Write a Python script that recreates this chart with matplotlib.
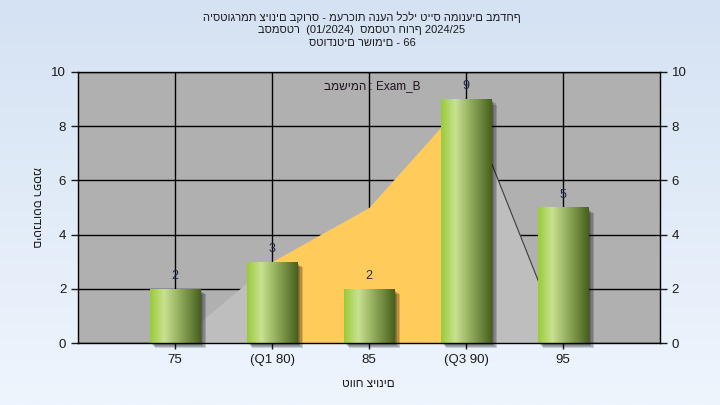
import numpy as np
import matplotlib
matplotlib.use("Agg")
import matplotlib.pyplot as plt
import matplotlib.patheffects as pe
from matplotlib.colors import LinearSegmentedColormap

plt.rcParams['font.family'] = ['Liberation Sans', 'DejaVu Sans']

# ---- data ----
categories = ["75", "(Q1 80)", "85", "(Q3 90)", "95"]
counts = [2, 3, 2, 9, 5]
curve_values = [0, 3, 5, 9, 0]
q1_index = 1
q3_index = 3
yticks = [0, 2, 4, 6, 8, 10]
title_lines = [
    "היסטוגרמת ציונים בקורס - מערכות הנעה לכלי טייס המונעים במדחף",
    "בסמסטר  (01/2024)  סמסטר חורף 2024/25",
    "סטודנטים רשומים - 66",
]
note_text = "במשימה : Exam_B"
xlabel = "טווח ציונים"
ylabel = "מספר סטודנטים"

fig = plt.figure(figsize=(7.2, 4.05), dpi=100)

# background gradient
bg = fig.add_axes([0, 0, 1, 1], zorder=-1)
grad = np.linspace(0, 1, 256).reshape(-1, 1)
bg_cmap = LinearSegmentedColormap.from_list("bg", ["#d5e2f3", "#eef5fd"])
bg.imshow(grad, aspect='auto', cmap=bg_cmap, extent=[0, 1, 0, 1], origin='upper')
bg.axis('off')

ax = fig.add_axes([78/720, 1-343/405, 582/720, 271/405])
ax.set_facecolor('#b0b0b0')
x = np.arange(len(categories))
ax.set_xlim(-1, len(categories))
ax.set_ylim(0, 10)

# grid
for yt in yticks:
    ax.axhline(yt, color='black', lw=1.0, zorder=0.5)
for xi in x:
    ax.axvline(xi, color='black', lw=1.0, zorder=0.5)

# area
cv = np.array(curve_values, dtype=float)
ax.fill_between(x, cv, 0, color='#bebebe', lw=0, zorder=1)
ax.fill_between(x[q1_index:q3_index+1], cv[q1_index:q3_index+1], 0,
                color='#ffcb5a', lw=0, zorder=1.1)
ax.plot(x[q3_index:q3_index+2], cv[q3_index:q3_index+2], color='#3c3c3c', lw=0.8, zorder=1.2)

# bars
bar_cmap = LinearSegmentedColormap.from_list(
    "bar", [(0.0, "#9acb38"), (0.28, "#c9e190"), (0.65, "#86a052"), (1.0, "#46601c")])
shadow = [pe.SimplePatchShadow(offset=(o, -o), shadow_rgbFace='black', alpha=0.16)
          for o in (1.5, 2.3, 3.1, 3.9)]
bars = ax.bar(x, counts, width=0.52, color='#8aae40', zorder=2,
              path_effects=shadow + [pe.Normal()], clip_on=False)
hgrad = np.linspace(0, 1, 256).reshape(1, -1)
for b in bars:
    x0, y0 = b.get_x(), b.get_y()
    w, h = b.get_width(), b.get_height()
    im = ax.imshow(hgrad, aspect='auto', cmap=bar_cmap,
                   extent=[x0, x0 + w, y0, y0 + h], zorder=2.1, origin='lower')
    im.set_clip_path(b)
for xi, c in zip(x, counts):
    ax.text(xi, c + 0.47, str(c), ha='center', va='center', fontsize=9,
            color='#1c2a48', zorder=3)
ax.set_xlim(-1, len(categories))
ax.set_ylim(0, 10)

ax.text(0.505, 0.948, note_text, transform=ax.transAxes, ha='center', va='center',
        fontsize=8.5, color='#201020', zorder=3)

ax.set_xticks(x)
ax.set_xticklabels(categories)
ax.set_yticks(yticks)
ax.tick_params(axis='y', left=True, right=True, labelleft=True, labelright=True,
               direction='out', length=5, width=1, labelsize=9.5, colors='#1a1a1a')
ax.tick_params(axis='x', direction='out', length=4, width=1, labelsize=9.5, colors='#1a1a1a', pad=4)
for s in ax.spines.values():
    s.set_color('black')
    s.set_linewidth(1)
    s.set_zorder(4)

fig.text(368/720, 1-384/405, xlabel, ha='center', va='center', fontsize=8.5, color='#1a1a1a')
fig.text(36/720, 1-207/405, ylabel, ha='center', va='center', fontsize=8.5,
         rotation=270, color='#1a1a1a')

for i, line in enumerate(title_lines):
    fig.text(362/720, 1-(17 + 13*i)/405, line, ha='center', va='center',
             fontsize=8, color='#1a1a1a')

fig.savefig("out.png", dpi=100)
